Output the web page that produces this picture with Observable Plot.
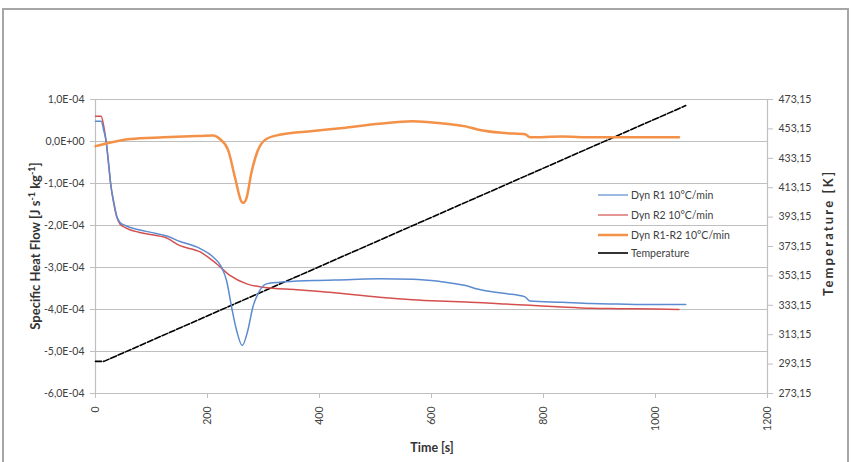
<!DOCTYPE html>
<html>
<head>
<meta charset="utf-8">
<script src="https://cdn.jsdelivr.net/npm/d3@7"></script>
<script src="https://cdn.jsdelivr.net/npm/@observablehq/plot@0.6"></script>
<style>
  html, body { margin: 0; padding: 0; background: #fff; }
  #chart { position: relative; width: 852px; height: 462px; overflow: hidden; }
</style>
</head>
<body>
<div id="chart"></div>
<script>
// ---- data (heat flow in units of 1E-04 J s^-1 kg^-1) ----
const FLOW_UNIT = 1e-4;

const seriesNames = ["Dyn R1 10°C/min", "Dyn R2 10°C/min", "Dyn R1-R2 10°C/min", "Temperature"];

const r1Time = [0, 10, 15, 19, 24, 27, 33, 38, 44, 53, 77, 101, 124, 151, 187, 210, 225, 234, 243, 252, 262, 272, 281, 290, 305, 329, 388, 450, 507, 566, 613, 661, 684, 732, 767, 776, 833, 886, 933, 1000, 1054];
const r1Flow = [0.48, 0.48, 0.25, 0, -0.6, -1.0, -1.47, -1.78, -1.93, -2.0, -2.1, -2.17, -2.24, -2.38, -2.55, -2.75, -2.99, -3.31, -3.94, -4.5, -4.86, -4.5, -3.94, -3.63, -3.39, -3.35, -3.31, -3.29, -3.27, -3.28, -3.33, -3.43, -3.52, -3.62, -3.70, -3.80, -3.83, -3.86, -3.87, -3.88, -3.88];

const r2Time = [0, 10, 15, 19, 24, 27, 33, 38, 44, 53, 77, 101, 124, 151, 187, 216, 240, 270, 299, 359, 418, 507, 566, 613, 661, 732, 776, 833, 886, 933, 1000, 1042];
const r2Flow = [0.60, 0.60, 0.34, 0, -0.62, -1.0, -1.5, -1.8, -1.97, -2.05, -2.16, -2.22, -2.28, -2.48, -2.63, -2.91, -3.19, -3.39, -3.47, -3.53, -3.59, -3.71, -3.77, -3.80, -3.82, -3.87, -3.90, -3.94, -3.97, -3.98, -3.99, -4.0];

const diffTime = [0, 21, 62, 121, 181, 210, 222, 237, 249, 261, 264, 270, 278, 290, 305, 329, 388, 447, 507, 566, 613, 661, 684, 732, 767, 776, 833, 886, 933, 1042];
const diffFlow = [-0.11, -0.04, 0.06, 0.10, 0.13, 0.14, 0.06, -0.21, -0.85, -1.44, -1.46, -1.33, -0.77, -0.21, 0.06, 0.16, 0.25, 0.33, 0.42, 0.48, 0.44, 0.36, 0.28, 0.20, 0.17, 0.10, 0.12, 0.10, 0.10, 0.10];

const tempTime = [0, 15, 1054];
const tempK = [295.0, 295.0, 469.0];

// axis ticks
const timeTicks = [0, 200, 400, 600, 800, 1000, 1200];
const flowTicks = [1, 0, -1, -2, -3, -4, -5, -6]; // x 1E-04
const tempTicks = [273.15, 293.15, 313.15, 333.15, 353.15, 373.15, 393.15, 413.15, 433.15, 453.15, 473.15];

// ---- helpers ----
const flowMin = -6 * FLOW_UNIT, flowMax = 1 * FLOW_UNIT;
const tMin = 273.15, tMax = 473.15;
const tempToFlow = T => flowMin + (T - tMin) / (tMax - tMin) * (flowMax - flowMin);
const flowToTemp = v => tMin + (v - flowMin) / (flowMax - flowMin) * (tMax - tMin);

function fmtFlow(v) {
  const m = Math.round(v / FLOW_UNIT * 10) / 10;
  if (m === 0) return "0,0E+00";
  return m.toFixed(1).replace(".", ",") + "E-04";
}
const fmtTemp = v => flowToTemp(v).toFixed(2).replace(".", ",");

const r1 = r1Time.map((t, i) => ({t, v: r1Flow[i] * FLOW_UNIT}));
const r2 = r2Time.map((t, i) => ({t, v: r2Flow[i] * FLOW_UNIT}));
const diff = diffTime.map((t, i) => ({t, v: diffFlow[i] * FLOW_UNIT}));
const temp = tempTime.map((t, i) => ({t, v: tempToFlow(tempK[i])}));

const colors = ["#5b8bd0", "#d4504e", "#f39148", "#000000"];
const axisGray = "#bfbfbf";
const textCol = "#404040";

const plot = Plot.plot({
  width: 852,
  height: 462,
  marginLeft: 95,
  marginRight: 85,
  marginTop: 99,
  marginBottom: 69,
  style: {fontFamily: "Lato, 'Liberation Sans', sans-serif", fontSize: "10.5px", background: "transparent", overflow: "visible"},
  x: {domain: [0, 1200]},
  y: {domain: [flowMin, flowMax]},
  marks: [
    Plot.ruleY(flowTicks.map(d => d * FLOW_UNIT), {y: d => d, stroke: axisGray, strokeWidth: 1.2}),
    Plot.ruleX([0, 1200], {x: d => d, stroke: axisGray, strokeWidth: 1.2}),
    Plot.axisY(flowTicks.map(d => d * FLOW_UNIT), {
      anchor: "left", tickFormat: fmtFlow, tickSize: 5, tickPadding: 6,
      stroke: axisGray, fill: textCol, label: null
    }),
    Plot.axisY(tempTicks.map(tempToFlow), {
      anchor: "right", tickFormat: fmtTemp, tickSize: 5, tickPadding: 6,
      stroke: axisGray, fill: textCol, label: null
    }),
    Plot.axisX(timeTicks, {
      anchor: "bottom", tickRotate: -90, tickSize: 5, tickPadding: 8,
      stroke: axisGray, fill: textCol, label: null, tickFormat: d => String(d)
    }),
    Plot.line(temp, {x: "t", y: "v", stroke: colors[3], strokeWidth: 1.6, strokeDasharray: "6,2"}),
    Plot.line(r2, {x: "t", y: "v", stroke: colors[1], strokeWidth: 1.5, curve: "monotone-x"}),
    Plot.line(r1, {x: "t", y: "v", stroke: colors[0], strokeWidth: 1.5, curve: "monotone-x"}),
    Plot.line(diff, {x: "t", y: "v", stroke: colors[2], strokeWidth: 2.5, curve: "monotone-x"})
  ]
});

document.getElementById("chart").appendChild(plot);

const svg = d3.select(plot);

// outer chart border
svg.insert("rect", ":first-child")
  .attr("x", 3).attr("y", 9).attr("width", 845).attr("height", 470)
  .attr("fill", "none").attr("stroke", "#a6a6a6").attr("stroke-width", 2);

// axis titles
const titleFont = "Lato, 'Liberation Sans', sans-serif";
svg.append("text")
  .attr("x", 432).attr("y", 452)
  .attr("text-anchor", "middle")
  .attr("font-family", titleFont).attr("font-weight", "bold").attr("font-size", 12.5)
  .attr("fill", "#333")
  .text("Time [s]");

const lt = svg.append("text")
  .attr("transform", "translate(40,246) rotate(-90)")
  .attr("text-anchor", "middle")
  .attr("font-family", titleFont).attr("font-weight", "bold").attr("font-size", 13)
  .attr("fill", "#333");
lt.append("tspan").text("Specific Heat Flow [J s");
lt.append("tspan").attr("dy", -5).attr("font-size", 9).text("-1");
lt.append("tspan").attr("dy", 5).text(" kg");
lt.append("tspan").attr("dy", -5).attr("font-size", 9).text("-1");
lt.append("tspan").attr("dy", 5).text("]");

svg.append("text")
  .attr("transform", "translate(833,234) rotate(-90)")
  .attr("text-anchor", "middle")
  .attr("font-family", titleFont).attr("font-weight", "bold").attr("font-size", 13)
  .attr("fill", "#333")
  .attr("textLength", 124).attr("lengthAdjust", "spacing")
  .text("Temperature [K]");

// legend
const legendY = [195, 215, 235, 253];
const legendW = [1.2, 1.2, 2.5, 1.6];
const lg = svg.append("g");
seriesNames.forEach((name, i) => {
  lg.append("line")
    .attr("x1", 598).attr("x2", 628)
    .attr("y1", legendY[i]).attr("y2", legendY[i])
    .attr("stroke", colors[i]).attr("stroke-width", legendW[i]);
  lg.append("text")
    .attr("x", 631).attr("y", legendY[i]).attr("dy", "0.35em")
    .attr("text-anchor", "start")
    .attr("font-family", titleFont).attr("font-size", 10.5)
    .attr("fill", textCol)
    .text(name);
});
</script>
</body>
</html>
